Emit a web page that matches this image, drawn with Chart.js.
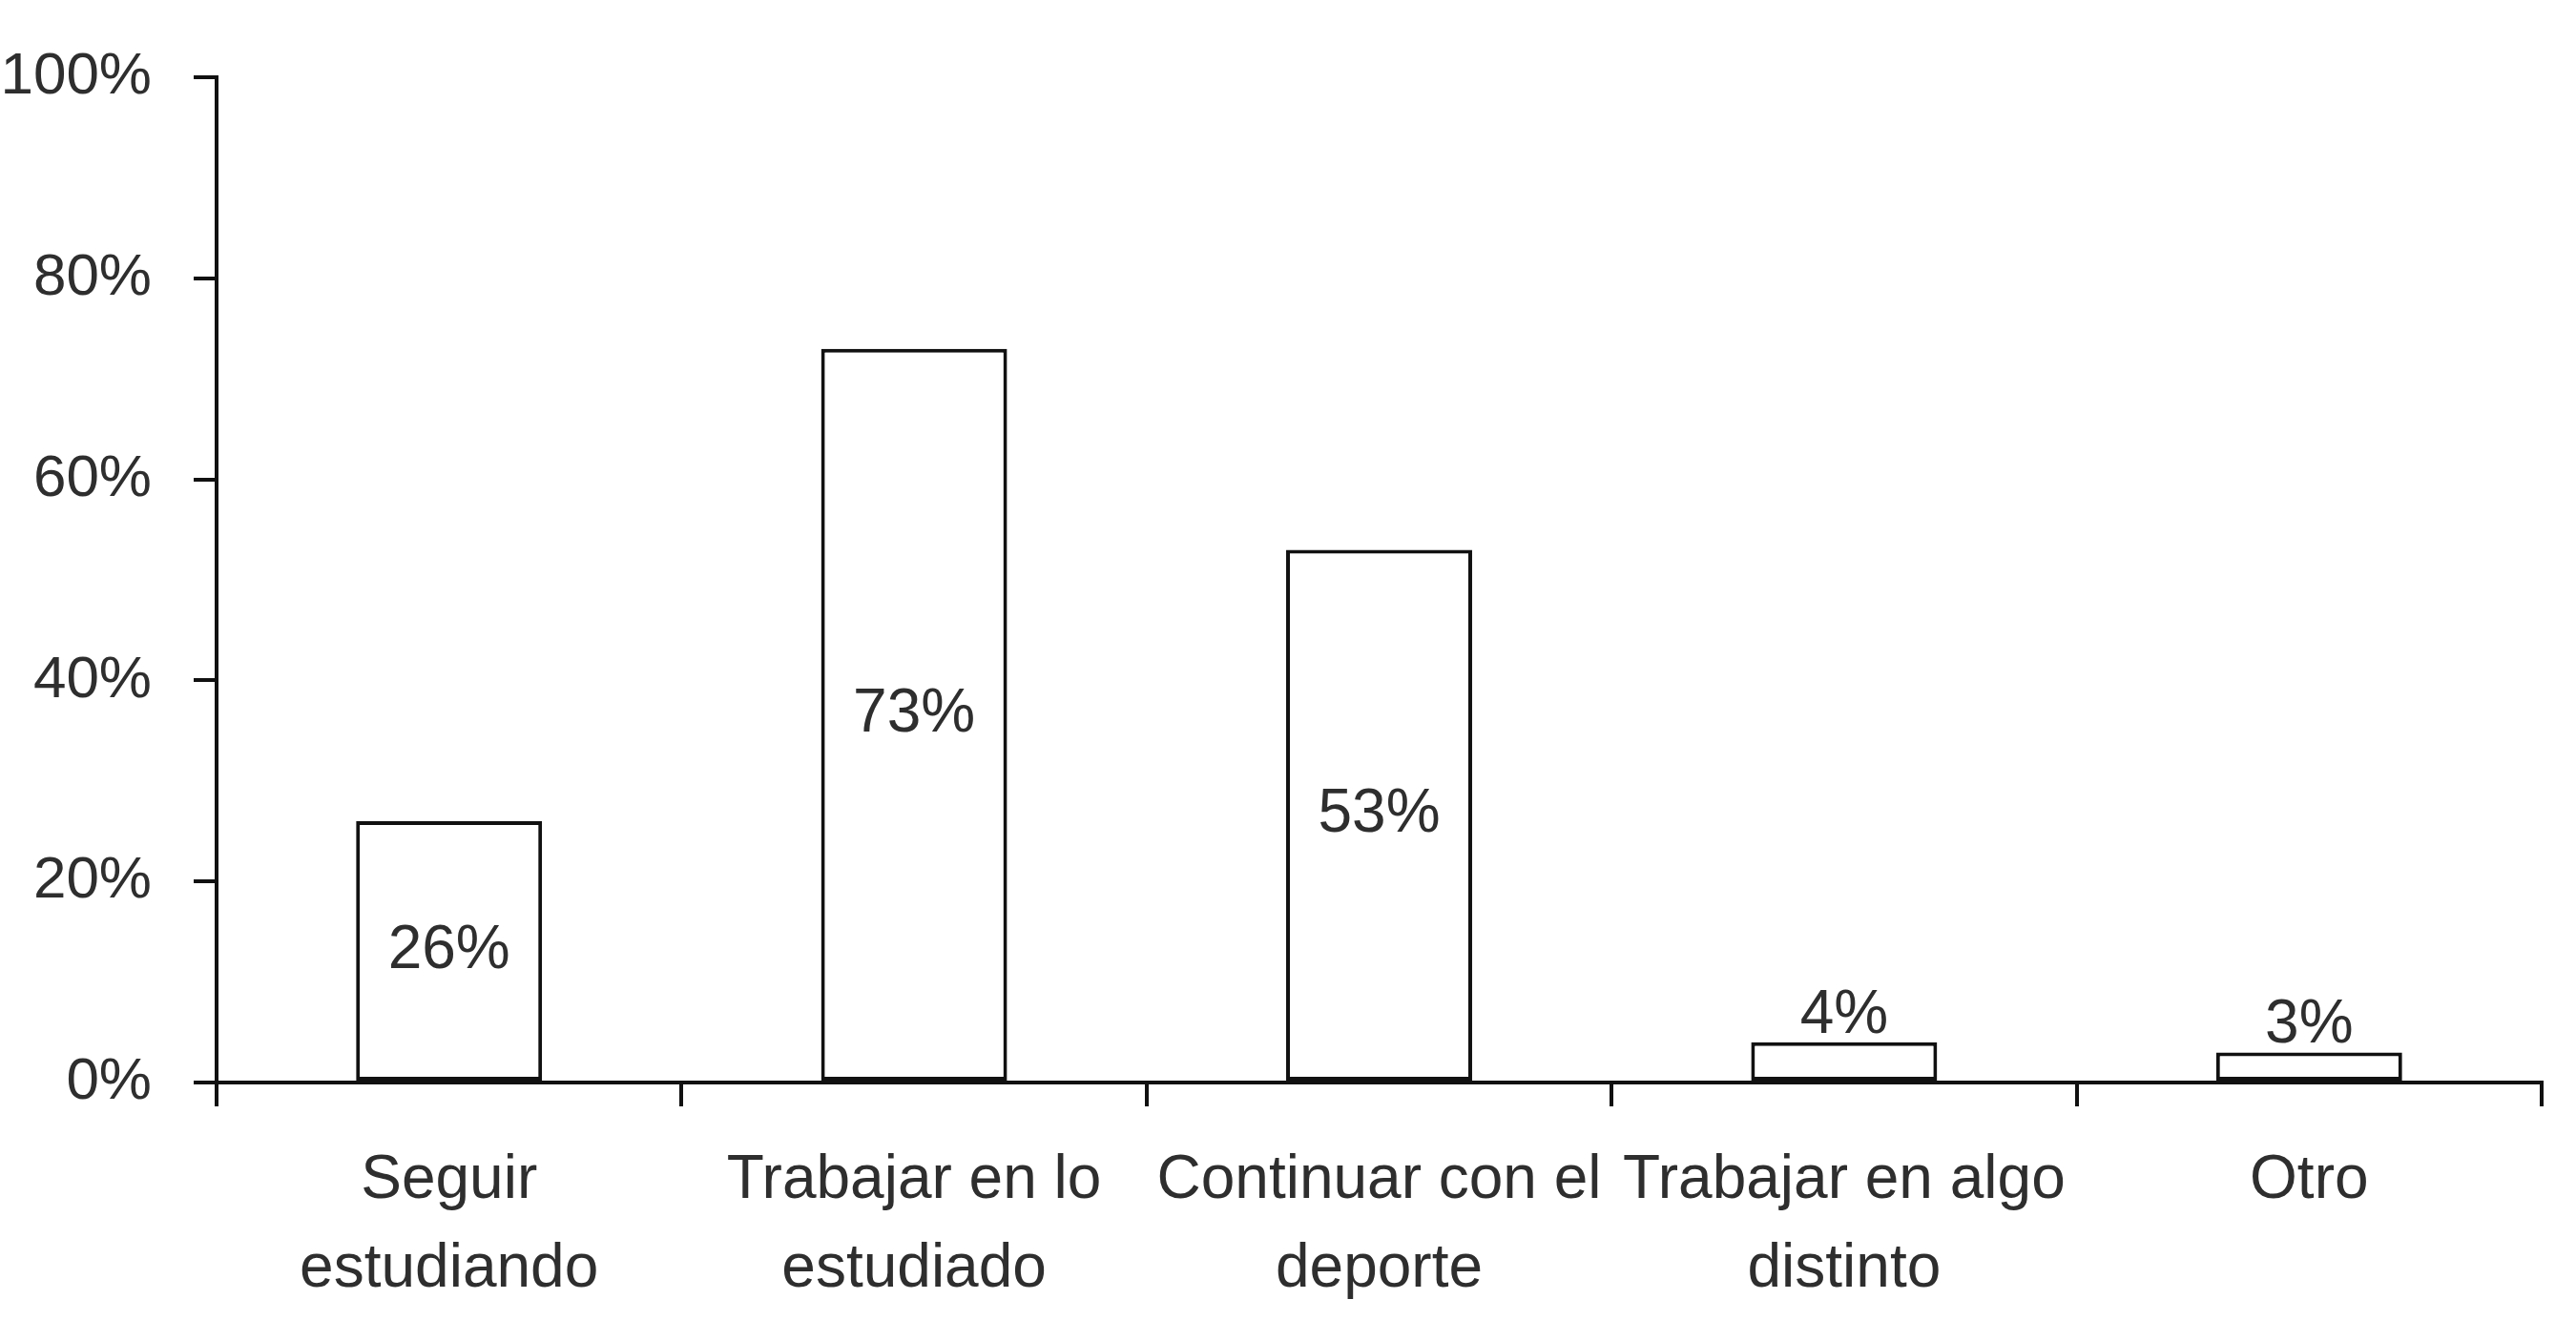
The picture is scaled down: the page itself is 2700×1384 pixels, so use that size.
<!DOCTYPE html>
<html>
<head>
<meta charset="utf-8">
<script src="https://cdn.jsdelivr.net/npm/chart.js@4/dist/chart.umd.min.js"></script>
<style>
  html, body { margin: 0; padding: 0; background: #ffffff; }
  #wrap { width: 2700px; height: 1384px; }
</style>
</head>
<body>
<div id="wrap"><canvas id="c" width="2700" height="1384"></canvas></div>
<script>
const categories = [
  ["Seguir", "estudiando"],
  ["Trabajar en lo", "estudiado"],
  ["Continuar con el", "deporte"],
  ["Trabajar en algo", "distinto"],
  ["Otro"]
];
const values = [26, 73, 53, 4, 3];
const valueLabels = ["26%", "73%", "53%", "4%", "3%"];
const yTicks = [0, 20, 40, 60, 80, 100];

const FONT = '"Liberation Sans", Arial, sans-serif';
const INK = '#111111';
const TEXT = '#2e2e2e';
const FS = 64;

const valueLabelPlugin = {
  id: 'valueLabels',
  afterDatasetsDraw(chart) {
    const ctx = chart.ctx;
    const meta = chart.getDatasetMeta(0);
    ctx.save();
    ctx.font = FS + 'px ' + FONT;
    ctx.fillStyle = TEXT;
    ctx.textAlign = 'center';
    meta.data.forEach((bar, i) => {
      const v = values[i];
      if (v >= 10) {
        ctx.textBaseline = 'middle';
        ctx.fillText(valueLabels[i], bar.x, (bar.y + bar.base) / 2);
      } else {
        ctx.textBaseline = 'alphabetic';
        ctx.fillText(valueLabels[i], bar.x, bar.y - 10);
      }
    });
    ctx.restore();
  }
};

new Chart(document.getElementById('c'), {
  type: 'bar',
  data: {
    labels: categories,
    datasets: [{
      data: values,
      backgroundColor: '#ffffff',
      borderColor: INK,
      borderWidth: 4,
      borderSkipped: false,
      categoryPercentage: 1.0,
      barPercentage: 0.4
    }]
  },
  options: {
    responsive: false,
    animation: false,
    devicePixelRatio: 1,
    layout: { padding: { top: 52, right: 36, bottom: 0, left: 0 } },
    plugins: { legend: { display: false }, tooltip: { enabled: false } },
    scales: {
      x: {
        afterFit(scale) { scale.height = 249; },
        grid: { offset: true, drawOnChartArea: false, drawTicks: true, tickLength: 25, color: INK, lineWidth: 4 },
        border: { display: true, color: INK, width: 4 },
        ticks: { color: TEXT, font: { family: FONT, size: FS, lineHeight: 1.45 }, padding: 32, maxRotation: 0, autoSkip: false }
      },
      y: {
        min: 0, max: 100,
        afterFit(scale) { scale.width = 227; },
        afterBuildTicks(scale) { scale.ticks = yTicks.map(v => ({ value: v })); },
        grid: { drawOnChartArea: false, drawTicks: true, tickLength: 24, color: INK, lineWidth: 4 },
        border: { display: true, color: INK, width: 4 },
        ticks: { color: TEXT, font: { family: FONT, size: 62 }, padding: 44, callback: v => v + '%' }
      }
    }
  },
  plugins: [valueLabelPlugin]
});
</script>
</body>
</html>
